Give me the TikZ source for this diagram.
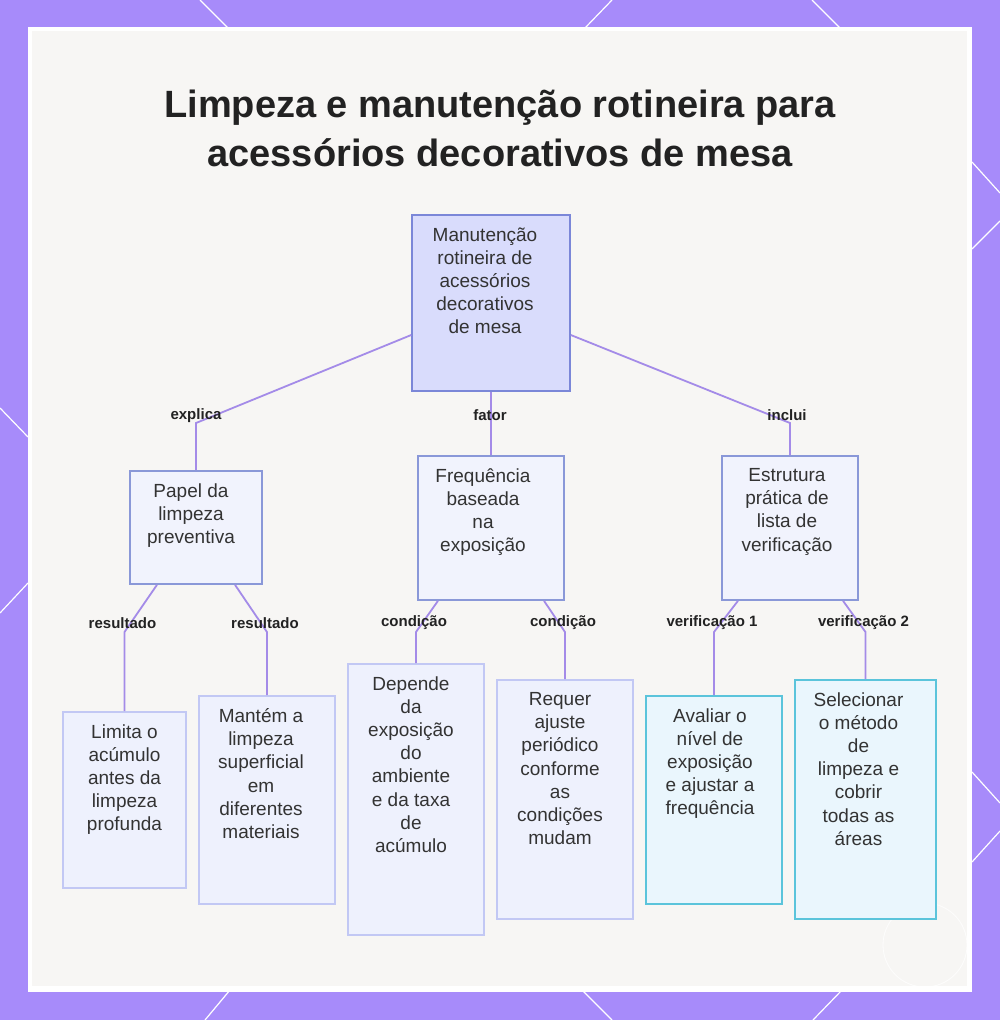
\documentclass[tikz,border=0pt]{standalone}
\usepackage{fontspec}
\setmainfont{Liberation Sans}
\definecolor{frame}{HTML}{A78BFA}
\definecolor{panel}{HTML}{F7F6F4}
\definecolor{conn}{HTML}{A48BE8}
\definecolor{rootfill}{HTML}{D9DCFC}
\definecolor{rootdraw}{HTML}{7B87D8}
\definecolor{midfill}{HTML}{F1F3FD}
\definecolor{middraw}{HTML}{8A98D8}
\definecolor{lowfill}{HTML}{EEF1FD}
\definecolor{lowdraw}{HTML}{C2C8F4}
\definecolor{cyfill}{HTML}{EAF6FD}
\definecolor{cydraw}{HTML}{5BC4DB}
\definecolor{txtcol}{HTML}{333333}
\definecolor{titlecol}{HTML}{222222}
\tikzset{
  boxroot/.style={draw=rootdraw, fill=rootfill, line width=1.6pt, inner sep=0pt},
  boxmid/.style={draw=middraw, fill=midfill, line width=1.6pt, inner sep=0pt},
  boxlow/.style={draw=lowdraw, fill=lowfill, line width=1.6pt, inner sep=0pt},
  boxcy/.style={draw=cydraw, fill=cyfill, line width=1.6pt, inner sep=0pt},
  txt/.style={anchor=north, align=center, inner sep=0pt, text=txtcol, font=\fontsize{19}{23.2}\selectfont},
  lab/.style={inner sep=0pt, text=titlecol, font=\bfseries\fontsize{15}{18}\selectfont},
  conline/.style={draw=conn, line width=1.8pt},
  deco/.style={draw=white, line width=1.2pt}
}
\begin{document}
\begin{tikzpicture}[x=1pt,y=-1pt]
\useasboundingbox (0,0) rectangle (1000,1020);
\fill[frame] (0,0) rectangle (1000,1020);
% decorative white lines on the frame
\draw[deco] (200,0) -- (228,28);
\draw[deco] (612,0) -- (585,28);
\draw[deco] (812,0) -- (840,28);
\draw[deco] (230,990) -- (205,1020);
\draw[deco] (582,990) -- (612,1020);
\draw[deco] (842,990) -- (813,1020);
\draw[deco] (0,408) -- (28,437);
\draw[deco] (0,613) -- (28,583);
\draw[deco] (972,162) -- (1000,193);
\draw[deco] (972,249) -- (1000,221);
\draw[deco] (972,772) -- (1000,803);
\draw[deco] (972,862) -- (1000,831);
\fill[white] (28,27) rectangle (972,992);
\fill[panel] (32,31) rectangle (967,986);
\draw[white, line width=0.8pt, opacity=0.8] (925,945) circle (42);

% title
\node[anchor=north, align=center, inner sep=0pt, text=titlecol,
      font=\bfseries\fontsize{38}{49}\selectfont] (title) at (500,90)
  {Limpeza e manutenção rotineira para\\acessórios decorativos de mesa};

% boxes
\node[boxroot, minimum width=158pt, minimum height=176pt] (root) at (491,303) {};
\node[boxmid, minimum width=132pt, minimum height=113pt] (papel) at (196,527.5) {};
\node[boxmid, minimum width=146pt, minimum height=144pt] (freq) at (491,528) {};
\node[boxmid, minimum width=136pt, minimum height=144pt] (estr) at (790,528) {};
\node[boxlow, minimum width=123pt, minimum height=176pt] (limita) at (124.5,800) {};
\node[boxlow, minimum width=136pt, minimum height=208pt] (mantem) at (267,800) {};
\node[boxlow, minimum width=136pt, minimum height=271pt] (depende) at (416,799.5) {};
\node[boxlow, minimum width=136pt, minimum height=239pt] (requer) at (565,799.5) {};
\node[boxcy, minimum width=136pt, minimum height=208pt] (avaliar) at (714,800) {};
\node[boxcy, minimum width=141pt, minimum height=239pt] (selec) at (865.5,799.5) {};

% texts
\node[txt] (troot) at ([xshift=-6pt,yshift=-13pt]root.north) {Manutenção\\rotineira de\\acessórios\\decorativos\\de mesa};
\node[txt] (tpapel) at ([xshift=-5pt,yshift=-13pt]papel.north) {Papel da\\limpeza\\preventiva};
\node[txt] (tfreq) at ([xshift=-8pt,yshift=-13pt]freq.north) {Frequência\\baseada\\na\\exposição};
\node[txt] (testr) at ([xshift=-3pt,yshift=-13pt]estr.north) {Estrutura\\prática de\\lista de\\verificação};
\node[txt] (tlimita) at ([yshift=-13pt]limita.north) {Limita o\\acúmulo\\antes da\\limpeza\\profunda};
\node[txt] (tmantem) at ([xshift=-6pt,yshift=-13pt]mantem.north) {Mantém a\\limpeza\\superficial\\em\\diferentes\\materiais};
\node[txt] (tdepende) at ([xshift=-5pt,yshift=-13pt]depende.north) {Depende\\da\\exposição\\do\\ambiente\\e da taxa\\de\\acúmulo};
\node[txt] (trequer) at ([xshift=-5pt,yshift=-13pt]requer.north) {Requer\\ajuste\\periódico\\conforme\\as\\condições\\mudam};
\node[txt] (tavaliar) at ([xshift=-4pt,yshift=-13pt]avaliar.north) {Avaliar o\\nível de\\exposição\\e ajustar a\\frequência};
\node[txt] (tselec) at ([xshift=-7pt,yshift=-13pt]selec.north) {Selecionar\\o método\\de\\limpeza e\\cobrir\\todas as\\áreas};

% connectors level 1
\coordinate (b1) at (papel.north |- 0,423);
\coordinate (b2) at (estr.north |- 0,423);
\draw[conline] ([yshift=-32pt]root.west) -- (b1) -- (papel.north);
\draw[conline] (root.south) -- (freq.north);
\draw[conline] ([yshift=-32pt]root.east) -- (b2) -- (estr.north);
\node[lab] (l1) at ([yshift=7pt]b1) {explica};
\node[lab] (l2) at (490,415) {fator};
\node[lab] (l3) at ([xshift=-3pt,yshift=8pt]b2) {inclui};

% connectors level 2
\coordinate (c1) at (limita.north |- 0,632);
\coordinate (c2) at (mantem.north |- 0,632);
\coordinate (c3) at (depende.north |- 0,632);
\coordinate (c4) at (requer.north |- 0,632);
\coordinate (c5) at (avaliar.north |- 0,632);
\coordinate (c6) at (selec.north |- 0,632);
\draw[conline] ([xshift=-39pt]papel.south) -- (c1) -- (limita.north);
\draw[conline] ([xshift=39pt]papel.south) -- (c2) -- (mantem.north);
\draw[conline] ([xshift=-53pt]freq.south) -- (c3) -- (depende.north);
\draw[conline] ([xshift=53pt]freq.south) -- (c4) -- (requer.north);
\draw[conline] ([xshift=-52pt]estr.south) -- (c5) -- (avaliar.north);
\draw[conline] ([xshift=53pt]estr.south) -- (c6) -- (selec.north);
\node[lab] (m1) at ([xshift=-2pt,yshift=9pt]c1) {resultado};
\node[lab] (m2) at ([xshift=-2pt,yshift=9pt]c2) {resultado};
\node[lab] (m3) at ([xshift=-2pt,yshift=9pt]c3) {condição};
\node[lab] (m4) at ([xshift=-2pt,yshift=9pt]c4) {condição};
\node[lab] (m5) at ([xshift=-2pt,yshift=9pt]c5) {verificação 1};
\node[lab] (m6) at ([xshift=-2pt,yshift=9pt]c6) {verificação 2};
\end{tikzpicture}
\end{document}
